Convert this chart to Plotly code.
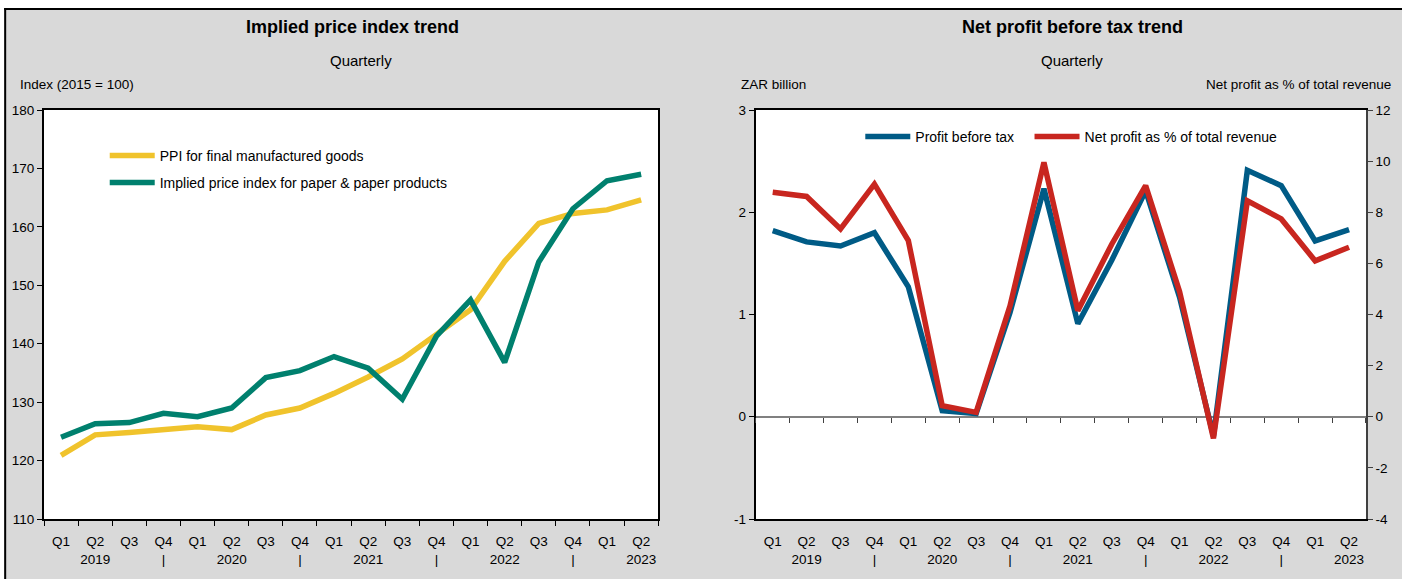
import plotly.graph_objects as go

# ---------------- data ----------------
quarters = ["Q1", "Q2", "Q3", "Q4"] * 4 + ["Q1", "Q2"]
year_row = ["", "2019", "", "|", "", "2020", "", "|", "", "2021", "", "|",
            "", "2022", "", "|", "", "2023"]
years = [2019] * 4 + [2020] * 4 + [2021] * 4 + [2022] * 4 + [2023] * 2

ppi_final_goods = [120.9, 124.4, 124.8, 125.2, 125.8, 125.3, 127.8, 129.0, 131.5,
                   134.3, 137.4, 141.6, 145.8, 154.1, 160.6, 162.3, 162.9, 164.6]
paper_price_index = [124.0, 126.3, 126.5, 128.1, 127.5, 129.0, 134.2, 135.4, 137.8,
                     135.8, 130.5, 141.3, 147.5, 136.8, 154.0, 163.1, 167.9, 169.0]

profit_before_tax = [1.82, 1.71, 1.67, 1.80, 1.27, 0.06, 0.03, 1.02, 2.23,
                     0.91, 1.53, 2.21, 1.17, -0.19, 2.41, 2.26, 1.72, 1.83]
net_profit_pct = [8.78, 8.62, 7.35, 9.10, 6.89, 0.43, 0.17, 4.34, 9.95,
                  4.15, 6.75, 9.04, 4.90, -0.85, 8.45, 7.74, 6.10, 6.63]

left_ticks = [-1, 0, 1, 2, 3]
left_ticktext = ["-1", "0", "1", "2", "3"]
right_ticks = [-4, -2, 0, 2, 4, 6, 8, 10, 12]
right_ticktext = ["-4", "-2", "0", "2", "4", "6", "8", "10", "12"]

# ---------------- styling ----------------
W, H = 1402, 579
ML, MR, MT, MB = 42, 32, 110, 60
PW, PH = W - ML - MR, H - MT - MB
FONT = "Liberation Sans Narrow, Arial Narrow, Liberation Sans, Arial, sans-serif"
GREY_BG = "#d9d9d9"
YELLOW, GREEN, BLUE, RED = "#f0c32c", "#00806e", "#005b86", "#c8261f"
LW = 5.5


def px(x):  # screen x -> paper fraction
    return (x - ML) / PW


def py(y):  # screen y -> paper fraction
    return (H - MB - y) / PH


xids = [f"{q} {y}" for q, y in zip(quarters, years)]
ticktext = [f"{q}<br>{r}" for q, r in zip(quarters, year_row)]

fig = go.Figure()

fig.add_trace(go.Scatter(x=xids, y=ppi_final_goods, mode="lines",
                         name="PPI for final manufactured goods",
                         line=dict(color=YELLOW, width=LW), xaxis="x", yaxis="y",
                         legend="legend"))
fig.add_trace(go.Scatter(x=xids, y=paper_price_index, mode="lines",
                         name="Implied price index for paper & paper products",
                         line=dict(color=GREEN, width=LW), xaxis="x", yaxis="y",
                         legend="legend2"))
fig.add_trace(go.Scatter(x=xids, y=profit_before_tax, mode="lines",
                         name="Profit before tax",
                         line=dict(color=BLUE, width=LW), xaxis="x2", yaxis="y2",
                         legend="legend3"))
fig.add_trace(go.Scatter(x=xids, y=net_profit_pct, mode="lines",
                         name="Net profit as % of total revenue",
                         line=dict(color=RED, width=LW), xaxis="x2", yaxis="y3",
                         legend="legend4"))
fig.add_trace(go.Scatter(x=xids, y=profit_before_tax, mode="lines",
                         line=dict(width=0, color="rgba(0,0,0,0)"), xaxis="x3",
                         yaxis="y2", showlegend=False, hoverinfo="skip"))

tickfont = dict(family=FONT, size=13.5, color="#000000")
legfont = dict(family=FONT, size=14, color="#000000")
dom_left = [0, px(659)]
dom_right = [px(757), 1]

common_x = dict(type="category", categoryorder="array", categoryarray=xids,
                tickmode="array", tickvals=xids, ticktext=ticktext,
                tickson="boundaries", tickfont=tickfont, showgrid=False,
                zeroline=False, range=[-0.5, 17.5], tickangle=0,
                ticklabelstandoff=9)

leg_common = dict(xanchor="left", yanchor="middle", bgcolor="rgba(0,0,0,0)",
                  font=legfont, itemwidth=45)

fig.update_layout(
    width=W, height=H,
    margin=dict(l=ML, r=MR, t=MT, b=MB),
    paper_bgcolor=GREY_BG, plot_bgcolor="#ffffff",
    font=dict(family=FONT, size=14, color="#000000"),
    xaxis=dict(domain=dom_left, anchor="y", ticks="outside", ticklen=5,
               tickcolor="#000000", showline=True, linecolor="#000000",
               linewidth=2, mirror=True, **common_x),
    yaxis=dict(domain=[0, 1], anchor="x", range=[110, 180], dtick=10,
               ticks="outside", ticklen=5, tickcolor="#000000", showline=True,
               linecolor="#000000", linewidth=2, mirror=True, showgrid=False,
               zeroline=False, tickfont=tickfont),
    xaxis2=dict(domain=dom_right, anchor="y2", ticks="", showline=True,
                linecolor="#000000", linewidth=2, mirror=True, **common_x),
    xaxis3=dict(domain=dom_right, anchor="free", position=0.25, overlaying="x2",
                ticks="outside", ticklen=5, tickcolor="#404040",
                showticklabels=False, showline=False, matches="x2",
                type="category", categoryorder="array", categoryarray=xids,
                tickmode="array", tickvals=xids, tickson="boundaries",
                showgrid=False, zeroline=False),
    yaxis2=dict(domain=[0, 1], anchor="x2", range=[-1, 3],
                tickmode="array", tickvals=left_ticks, ticktext=left_ticktext,
                ticks="outside", ticklen=5, tickcolor="#000000", showline=True,
                linecolor="#000000", linewidth=2, showgrid=False,
                zeroline=True, zerolinecolor="#808080", zerolinewidth=2,
                tickfont=tickfont),
    yaxis3=dict(anchor="x2", overlaying="y2", side="right", range=[-4, 12],
                tickmode="array", tickvals=right_ticks, ticktext=right_ticktext,
                ticks="outside", ticklen=5, tickcolor="#404040",
                showline=True, linecolor="#404040", linewidth=1.5,
                showgrid=False, zeroline=False, tickfont=tickfont),
    legend=dict(x=px(103), y=py(156), **leg_common),
    legend2=dict(x=px(103), y=py(183), **leg_common),
    legend3=dict(x=px(862), y=py(137), **leg_common),
    legend4=dict(x=px(1032), y=py(137), **leg_common),
    shapes=[
        dict(type="rect", xref="paper", yref="paper", x0=px(-5), x1=px(1410),
             y0=py(8), y1=py(-5), fillcolor="#ffffff", line=dict(width=0)),
        dict(type="rect", xref="paper", yref="paper", x0=px(-5), x1=px(2),
             y0=py(590), y1=py(8), fillcolor="#ffffff", line=dict(width=0)),
        dict(type="line", xref="paper", yref="paper", x0=px(2), x1=px(1410),
             y0=py(9), y1=py(9), line=dict(color="#000000", width=2)),
        dict(type="line", xref="paper", yref="paper", x0=px(3), x1=px(3),
             y0=py(8), y1=py(590), line=dict(color="#000000", width=2)),
    ],
)

ann = []


def add_text(text, x, y, size, xanchor="center", bold=False):
    ann.append(dict(text=f"<b>{text}</b>" if bold else text, x=px(x), y=py(y),
                    xref="paper", yref="paper", xanchor=xanchor, yanchor="middle",
                    showarrow=False, font=dict(family=FONT, size=size,
                                               color="#000000")))


add_text("Implied price index trend", 352, 27, 18, bold=True)
add_text("Quarterly", 360, 60, 15)
add_text("Index (2015 = 100)", 16, 84, 13.5, xanchor="left")
add_text("Net profit before tax trend", 1075, 27, 18, bold=True)
add_text("Quarterly", 1075, 60, 15)
add_text("ZAR billion", 740, 84, 13.5, xanchor="left")
add_text("Net profit as % of total revenue", 1397, 84, 13.5, xanchor="right")
fig.update_layout(annotations=ann)

fig.write_html("out.html",
               config={"displayModeBar": False},
               post_script="document.body.style.margin='0';"
                           "document.body.style.overflow='hidden';")
